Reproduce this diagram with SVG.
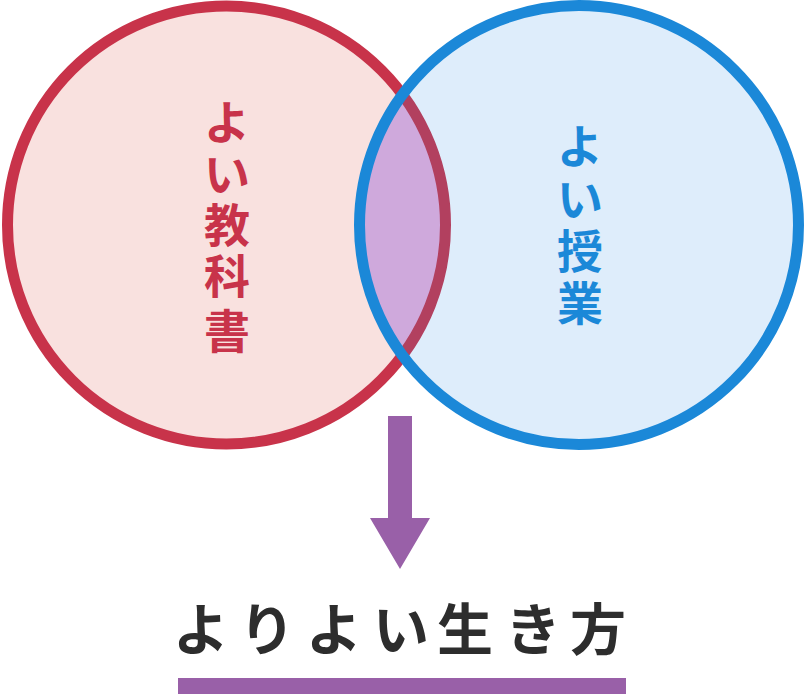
<svg xmlns="http://www.w3.org/2000/svg" width="806" height="694" viewBox="0 0 806 694">
  <style>
    .vt { font-family: "Noto Sans CJK JP", "Noto Sans", sans-serif; font-weight: 700; font-size: 46px; text-anchor: middle; }
    .red { fill: #c8334a; }
    .blue { fill: #1b88d8; }
    .result { font-family: "Noto Sans CJK JP", "Noto Sans", sans-serif; font-weight: 700; font-size: 56px; fill: #2d2d2d; text-anchor: middle; }
  </style>
  <defs>
    <clipPath id="clipB">
      <circle cx="579" cy="225" r="219.5"/>
    </clipPath>
  </defs>
  <rect width="806" height="694" fill="#ffffff"/>

  <g id="node-textbook">
    <circle cx="226.5" cy="225" r="219" fill="#f9e1df" stroke="#c8334a" stroke-width="11"/>
  </g>

  <g id="node-lesson-fill">
    <circle cx="579" cy="225" r="219.5" fill="#deedfb"/>
  </g>

  <g id="node-overlap" clip-path="url(#clipB)">
    <circle cx="226.5" cy="225" r="219" fill="#cfa9dc" stroke="#b2405f" stroke-width="11"/>
  </g>

  <g id="node-lesson">
    <circle cx="579" cy="225" r="219.5" fill="none" stroke="#1b88d8" stroke-width="11"/>
  </g>

  <g id="label-textbook">
    <text class="vt red" x="227 227 227 227 227" y="139 191 242 293 348">よい教科書</text>
  </g>

  <g id="label-lesson">
    <text class="vt blue" x="580 580 580 580" y="163 216 268 320">よい授業</text>
  </g>

  <g id="connectors">
    <polygon points="388,416 412,416 412,518 430,518 400,569 370,518 388,518" fill="#9960a8"/>
  </g>

  <g id="node-result">
    <text class="result" x="201 267 334 401 465 533 598" y="650">よりよい生き方</text>
    <rect x="178" y="678" width="448" height="16" fill="#9960a8"/>
  </g>
</svg>
